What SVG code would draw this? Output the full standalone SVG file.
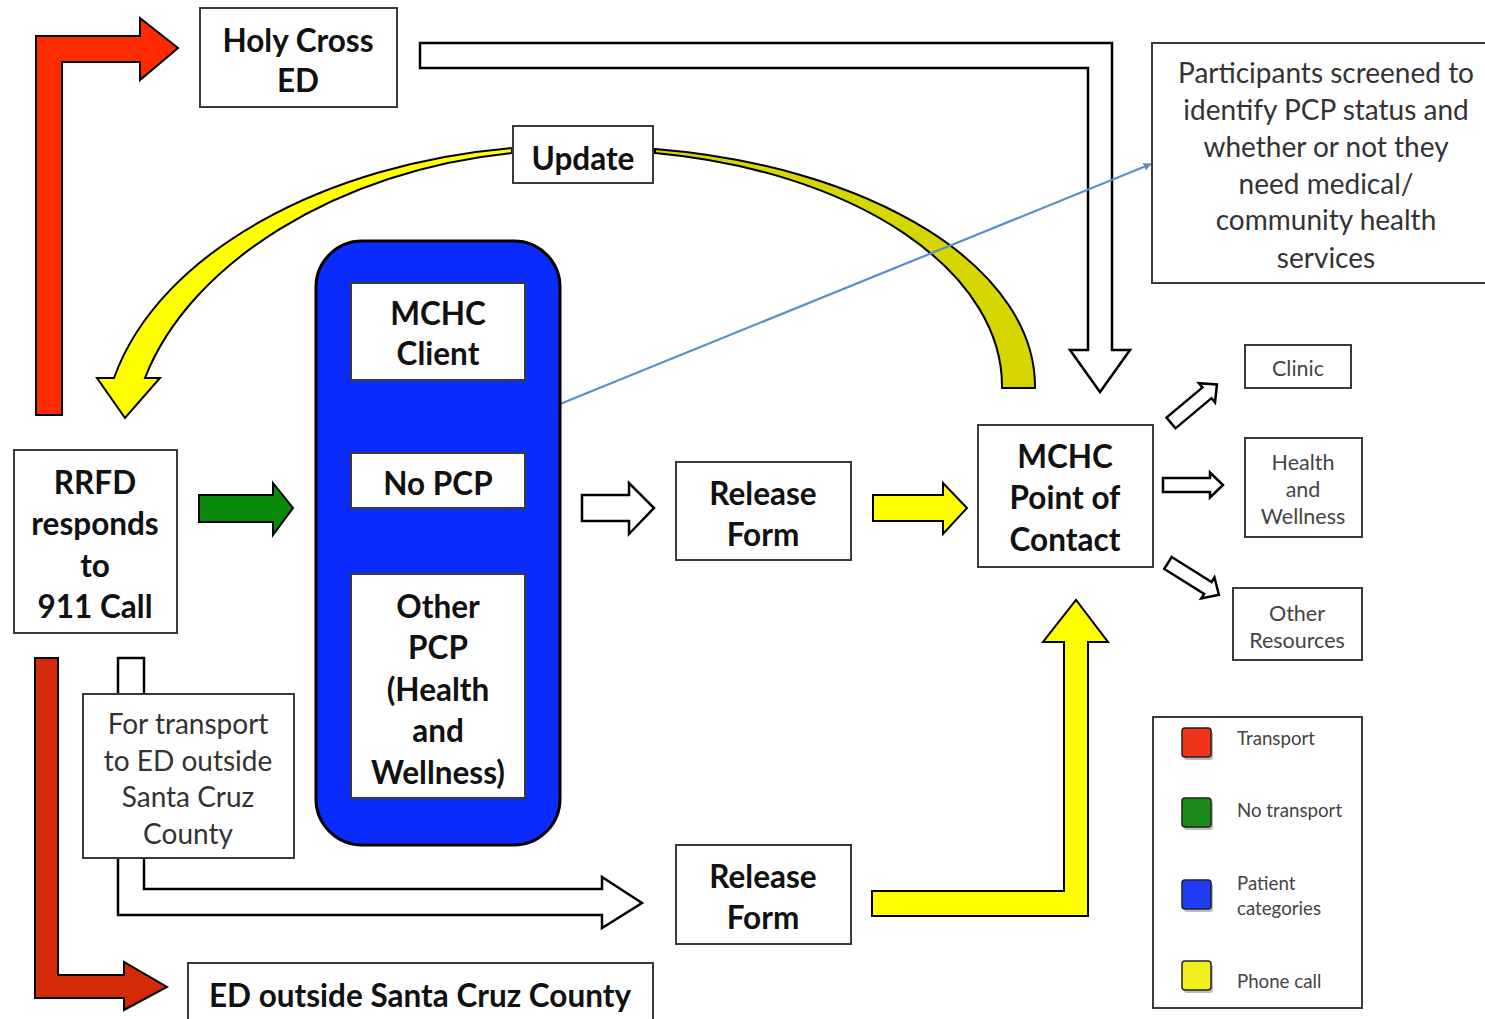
<svg xmlns="http://www.w3.org/2000/svg" width="1485" height="1019" viewBox="0 0 1485 1019">
<defs>
<style>
.box{fill:#fff;stroke:#3a3a3a;stroke-width:2}
.bt{font-family:Lato,"Liberation Sans",sans-serif;font-weight:bold;font-size:31.5px;fill:#111;text-anchor:middle}
.rt{font-family:Lato,"Liberation Sans",sans-serif;font-size:28px;fill:#333;text-anchor:middle}
.st{font-family:Lato,"Liberation Sans",sans-serif;font-size:21.5px;fill:#444;text-anchor:middle}
.lt{font-family:Lato,"Liberation Sans",sans-serif;font-size:18.7px;fill:#444}
.arr{stroke:#000;stroke-width:2;stroke-linejoin:miter}
.hol{fill:#fff;stroke:#000;stroke-width:2.5}
.sq{stroke:#222;stroke-width:1.5}
</style>
<path id="harrow" d="M0,-7 H47 V-12.5 L60,0 L47,12.5 V7 H0 Z"/>
<marker id="bhead" viewBox="0 0 10 10" refX="9" refY="5" markerWidth="8" markerHeight="8" orient="auto" markerUnits="userSpaceOnUse">
<path d="M0,0 L10,5 L0,10 Z" fill="#5b8ec9"/>
</marker>
</defs>
<rect width="1485" height="1019" fill="#fff"/>

<g id="connectors">
<path class="arr" fill="#ff2a00" d="M36,415 V36 H140 V18 L178,48 L140,80 V62 H62 V415 Z"/>
<path class="hol" d="M420,43 H1112 V350 H1130 L1100,392 L1070,350 H1088 V68 H420 Z"/>
<path class="arr" fill="#ffff00" d="M512,148 C330,163 160,250 114,378 L97,378 L125,418 L160,378 L145,378 C190,262 340,170 512,153 Z"/>
<path class="arr" fill="#d6d600" d="M655,149 A445,240 0 0 1 1035,388 L1002,388 A412,236 0 0 0 655,153 Z"/>
<path class="arr" fill="#0a8a0a" d="M199,495 H273 V483 L293,508 L273,535 V522 H199 Z"/>
<path class="hol" d="M582,495 H629 V483 L654,508 L629,534 V521 H582 Z"/>
<path class="arr" fill="#ffff00" d="M873,495 H943 V483 L967,508 L943,534 V521 H873 Z"/>
<use href="#harrow" class="hol" transform="translate(1171,423) rotate(-40)"/>
<use href="#harrow" class="hol" transform="translate(1163,485)"/>
<use href="#harrow" class="hol" transform="translate(1168,563) rotate(32)"/>
<path class="arr" fill="#d42a0a" d="M35,658 H58 V975 H124 V962 L167,987 L124,1010 V998 H35 Z"/>
<rect class="hol" x="118" y="658" width="26" height="38"/>
<path class="hol" d="M118,857 V915 H602 V928 L642,903 L602,877 V889 H144 V857"/>
<path class="arr" fill="#ffff00" d="M872,891 H1064 V642 H1043 L1076,600 L1108,642 H1088 V916 H872 Z"/>
<line x1="560" y1="404" x2="1151" y2="164" stroke="#5b8ec9" stroke-width="2.2" marker-end="url(#bhead)"/>
</g>

<g id="holy-cross">
<rect class="box" x="200" y="8" width="197" height="99"/>
<text class="bt" x="298" y="52">Holy Cross</text>
<text class="bt" x="298" y="92">ED</text>
</g>

<g id="update">
<rect class="box" x="513" y="126" width="140" height="57"/>
<text class="bt" x="583" y="170">Update</text>
</g>

<g id="patient-categories">
<rect x="316" y="241" width="244" height="604" rx="46" ry="46" fill="#0a2cff" stroke="#000" stroke-width="3"/>
<g id="mchc-client">
<rect class="box" x="351" y="283" width="174" height="97"/>
<text class="bt" x="438" y="325">MCHC</text>
<text class="bt" x="438" y="365">Client</text>
</g>
<g id="no-pcp">
<rect class="box" x="351" y="453" width="174" height="55"/>
<text class="bt" x="438" y="495">No PCP</text>
</g>
<g id="other-pcp">
<rect class="box" x="351" y="574" width="174" height="224"/>
<text class="bt" x="438" y="618">Other</text>
<text class="bt" x="438" y="659">PCP</text>
<text class="bt" x="438" y="701">(Health</text>
<text class="bt" x="438" y="742">and</text>
<text class="bt" x="438" y="784">Wellness)</text>
</g>
</g>

<g id="rrfd">
<rect class="box" x="14" y="450" width="163" height="183"/>
<text class="bt" x="95" y="494">RRFD</text>
<text class="bt" x="95" y="535">responds</text>
<text class="bt" x="95" y="577">to</text>
<text class="bt" x="95" y="618">911 Call</text>
</g>

<g id="release-form-1">
<rect class="box" x="676" y="462" width="175" height="98"/>
<text class="bt" x="763" y="505">Release</text>
<text class="bt" x="763" y="546">Form</text>
</g>

<g id="mchc-poc">
<rect class="box" x="978" y="425" width="175" height="142"/>
<text class="bt" x="1065" y="468">MCHC</text>
<text class="bt" x="1065" y="509">Point of</text>
<text class="bt" x="1065" y="551">Contact</text>
</g>

<g id="participants">
<rect class="box" x="1152" y="43" width="345" height="240"/>
<text class="rt" x="1326" y="83">Participants screened to</text>
<text class="rt" x="1326" y="120">identify PCP status and</text>
<text class="rt" x="1326" y="157">whether or not they</text>
<text class="rt" x="1326" y="194">need medical/</text>
<text class="rt" x="1326" y="230">community health</text>
<text class="rt" x="1326" y="268">services</text>
</g>

<g id="clinic">
<rect class="box" x="1245" y="345" width="106" height="43"/>
<text class="st" x="1298" y="376">Clinic</text>
</g>

<g id="health-wellness">
<rect class="box" x="1245" y="438" width="117" height="99"/>
<text class="st" x="1303" y="470">Health</text>
<text class="st" x="1303" y="497">and</text>
<text class="st" x="1303" y="524">Wellness</text>
</g>

<g id="other-resources">
<rect class="box" x="1233" y="588" width="129" height="72"/>
<text class="st" x="1297" y="621">Other</text>
<text class="st" x="1297" y="648">Resources</text>
</g>

<g id="transport-note">
<rect class="box" x="83" y="694" width="211" height="164"/>
<text class="rt" x="188" y="734">For transport</text>
<text class="rt" x="188" y="771">to ED outside</text>
<text class="rt" x="188" y="807">Santa Cruz</text>
<text class="rt" x="188" y="844">County</text>
</g>

<g id="ed-outside">
<rect class="box" x="188" y="963" width="465" height="70"/>
<text class="bt" x="420" y="1007">ED outside Santa Cruz County</text>
</g>

<g id="release-form-2">
<rect class="box" x="676" y="845" width="175" height="99"/>
<text class="bt" x="763" y="888">Release</text>
<text class="bt" x="763" y="929">Form</text>
</g>

<g id="legend">
<rect class="box" x="1153" y="717" width="209" height="291"/>
<rect x="1184" y="731" width="29" height="29" rx="3" fill="#bbb"/>
<rect class="sq" x="1182" y="728" width="29" height="29" rx="3" fill="#f0341c"/>
<text class="lt" x="1237" y="745">Transport</text>
<rect x="1184" y="801" width="29" height="29" rx="3" fill="#bbb"/>
<rect class="sq" x="1182" y="798" width="29" height="29" rx="3" fill="#1a8c1a"/>
<text class="lt" x="1237" y="817">No transport</text>
<rect x="1184" y="883" width="29" height="29" rx="3" fill="#bbb"/>
<rect class="sq" x="1182" y="880" width="29" height="29" rx="3" fill="#1f3df5"/>
<text class="lt" x="1237" y="890">Patient</text>
<text class="lt" x="1237" y="915">categories</text>
<rect x="1184" y="964" width="29" height="29" rx="3" fill="#bbb"/>
<rect class="sq" x="1182" y="961" width="29" height="29" rx="3" fill="#f2ef1f"/>
<text class="lt" x="1237" y="988">Phone call</text>
</g>
</svg>
